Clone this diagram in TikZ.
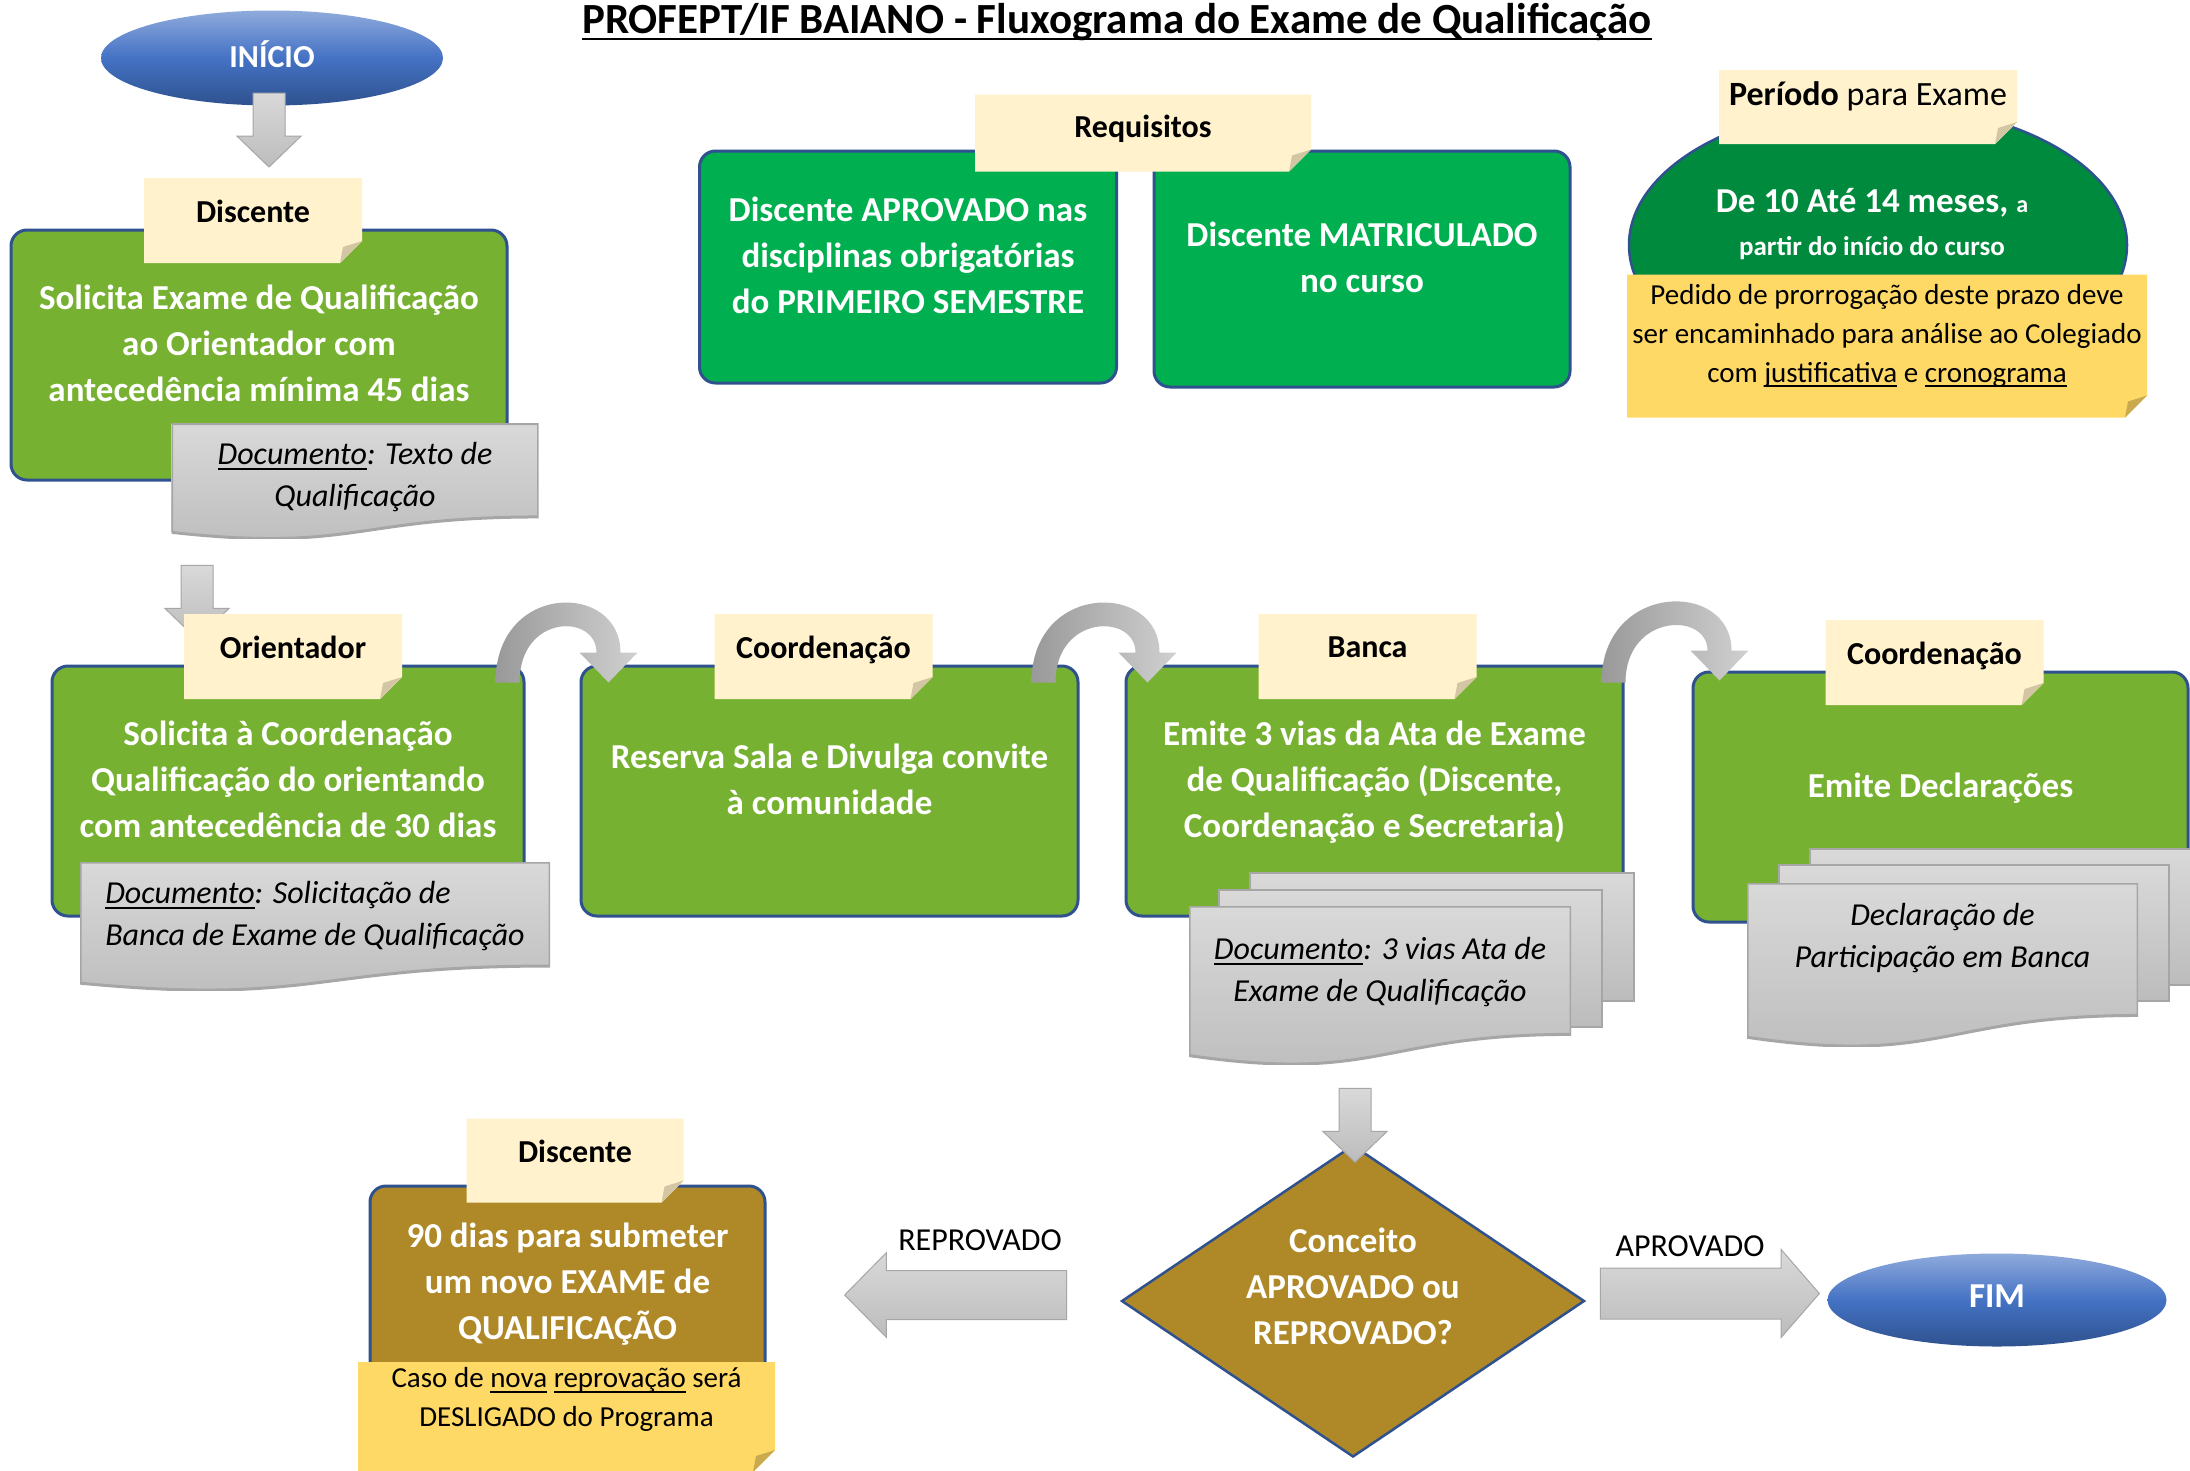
\documentclass[tikz,border=0pt]{standalone}
\usepackage{fontspec}
\setmainfont{Carlito}
\usepackage{tikz}
\usetikzlibrary{shapes.geometric,shapes.arrows,arrows.meta,calc,positioning}

% cores
\definecolor{verde}{HTML}{77B131}
\definecolor{verdereq}{HTML}{00B050}
\definecolor{verdeesc}{HTML}{008A3E}
\definecolor{borda}{HTML}{2F528F}
\definecolor{etiq}{HTML}{FFF2CC}
\definecolor{etiqdobra}{HTML}{D3C6A4}
\definecolor{amarelo}{HTML}{FFD966}
\definecolor{amarelodobra}{HTML}{C9AA4E}
\definecolor{marrom}{HTML}{AF8827}
\definecolor{cinzaclaro}{HTML}{D9D9D9}
\definecolor{cinzaesc}{HTML}{BCBCBC}
\definecolor{cinzaborda}{HTML}{A6A6A6}
\definecolor{cinzacurva}{HTML}{999999}
\definecolor{cinzacurvaclara}{HTML}{D0D0D0}
\definecolor{azulclaro}{HTML}{8FAADC}
\definecolor{azulmedio}{HTML}{4472C4}
\definecolor{azulesc}{HTML}{2F528F}

% tamanhos de letra
\newcommand{\ftitulo}{\fontsize{43}{50}\selectfont}
\newcommand{\fcaixa}{\fontsize{35}{46}\selectfont}
\newcommand{\fetiq}{\fontsize{32}{38}\selectfont}
\newcommand{\fdoc}{\fontsize{32}{42}\selectfont}
\newcommand{\fnota}{\fontsize{29}{39}\selectfont}
% sublinhado a profundidade fixa
\newcommand{\sublinha}[1]{\setbox0\hbox{#1}\rlap{\rule[-0.17em]{\wd0}{0.06em}}\box0\relax}
% seta curva: #1 = base da cauda, #2 = ponta
\newcommand{\setacurva}[2]{%
  \coordinate (cauda) at #1;
  \coordinate (ponta) at #2;
  \shade[curva] ($(cauda)+(-12,0)$)
      .. controls ($(cauda)+(-12,-101)$) and ($(ponta)+(12,-101)$) .. ($(ponta)+(12,-30)$)
      -- ($(ponta)+(29,-30)$) -- (ponta) -- ($(ponta)+(-29,-30)$) -- ($(ponta)+(-12,-30)$)
      .. controls ($(ponta)+(-12,-69)$) and ($(cauda)+(12,-69)$) .. ($(cauda)+(12,0)$)
      -- cycle;
}

\begin{document}
\begin{tikzpicture}[x=1pt,y=-1pt,
    caixa/.style={rectangle, rounded corners=16pt, draw=borda, line width=3pt,
      fill=verde, text=white, font=\fcaixa\bfseries, align=center,
      inner sep=0pt, text depth=24pt},
    etiqueta/.style 2 args={rectangle, inner sep=0pt, align=center,
      font=\fetiq\bfseries, text depth=18pt,
      path picture={
        \path (path picture bounding box.north west) coordinate (nw)
              (path picture bounding box.north east) coordinate (ne)
              (path picture bounding box.south east) coordinate (se)
              (path picture bounding box.south west) coordinate (sw);
        \fill[#1] (nw) -- (ne) -- ([yshift=22pt]se) -- ([xshift=-22pt]se) -- (sw) -- cycle;
        \fill[#2] ([yshift=22pt]se) -- ([xshift=-22pt]se) -- ([xshift=-19pt,yshift=16pt]se) -- cycle;
      }},
    documento/.style={rectangle, inner sep=0pt, align=center,
      font=\fdoc\itshape, text depth=14pt,
      path picture={
        \path (path picture bounding box.north west) coordinate (nw)
              (path picture bounding box.north east) coordinate (ne)
              (path picture bounding box.south east) coordinate (se)
              (path picture bounding box.south west) coordinate (sw)
              (path picture bounding box.north) coordinate (nn)
              (path picture bounding box.south) coordinate (ss);
        \shadedraw[top color=cinzaclaro, bottom color=cinzaesc, draw=cinzaborda, line width=3pt]
          (nw) -- (ne) -- ($(ne)!0.8126!(se)$)
          .. controls ($(nn)!0.8126!(ss)$) and ($(nn)!1.1221!(ss)$) .. ($(nw)!0.9463!(sw)$)
          -- cycle;
      }},
    folha/.style={rectangle, draw=cinzaborda, line width=1.5pt,
      top color=cinzaclaro, bottom color=cinzaesc, inner sep=0pt},
    seta/.style={single arrow, draw=cinzaborda, line width=1pt, anchor=tip,
      top color=cinzaclaro, bottom color=cinzaesc, inner xsep=0pt},
    curva/.style={left color=cinzacurva, right color=cinzacurvaclara},
    elipse/.style={ellipse, draw=none, top color=azulclaro, bottom color=azulesc,
      middle color=azulmedio, text=white, font=\fetiq\bfseries, inner sep=0pt,
      text depth=8pt},
    decisao/.style={diamond, aspect=1.48, fill=marrom, draw=borda, line width=2.5pt,
      text=white, font=\fcaixa\bfseries, align=center, inner sep=0pt, text depth=30pt},
    rotulo/.style={font=\fdoc, inner sep=0pt}
  ]

  \fill[white] (0,0) rectangle (2190,1470);
  \useasboundingbox (0,0) rectangle (2190,1470);

  \node[font=\ftitulo\bfseries, anchor=base] (titulo) at (1117,33)
    {\sublinha{PROFEPT/IF BAIANO - Fluxograma do Exame de Qualificação}};

  % inicio
  \node[elipse, minimum width=342pt, minimum height=95pt] (inicio) at (272,58) {INÍCIO};
  \node[seta, rotate=-90, inner ysep=15.5pt, minimum height=74pt,
        single arrow head extend=16pt, single arrow tip angle=92] (seta1)
        at ($(inicio.south)+(-3,62)$) {};

  % discente
  \node[caixa, minimum width=496pt, minimum height=250pt] (caixa1) at (259,355)
    {Solicita Exame de Qualificação\\ao Orientador com\\antecedência mínima 45 dias};
  \node[etiqueta={etiq}{etiqdobra}, minimum width=218pt, minimum height=85pt] (etq1)
    at ($(caixa1.north)+(-6,-8)$) {Discente};
  \node[documento, minimum width=367pt, minimum height=115pt] (doc1) at (355,481)
    {\sublinha{Documento}: Texto de\\Qualificação};

  % requisitos
  \node[caixa, fill=verdereq, minimum width=417pt, minimum height=232pt] (req1) at (908,267)
    {Discente APROVADO nas\\disciplinas obrigatórias\\do PRIMEIRO SEMESTRE};
  \node[caixa, fill=verdereq, minimum width=416pt, minimum height=236pt] (req2) at (1362,269)
    {Discente MATRICULADO\\no curso};
  \node[etiqueta={etiq}{etiqdobra}, text depth=14pt, minimum width=336pt, minimum height=77pt]
    (etqreq) at (1143,133) {Requisitos};

  % periodo
  \node[ellipse, fill=verdeesc, draw=borda, line width=2.5pt, minimum width=498pt,
        minimum height=280pt] (periodo) at (1878,245) {};
  \node[etiqueta={etiq}{etiqdobra}, font=\fontsize{34}{40}\selectfont, text depth=27pt,
        minimum width=298pt, minimum height=74pt] (etqper) at (1868,107)
    {\textbf{Período} para Exame};
  \node[text=white, font=\fontsize{35}{43}\selectfont\bfseries, align=center, inner sep=0pt]
    (prazo) at (1872,224)
    {De 10 Até 14 meses, {\fontsize{24}{43}\selectfont a}\\{\fontsize{27}{43}\selectfont partir do início do curso}};
  \node[etiqueta={amarelo}{amarelodobra}, font=\fnota, text depth=26pt,
        minimum width=520pt, minimum height=143pt] (nota1) at (1887,346)
    {Pedido de prorrogação deste prazo deve\\ser encaminhado para análise ao Colegiado\\com \sublinha{justificativa} e \sublinha{cronograma}};

  % orientador
  \node[seta, rotate=-90, inner ysep=15.5pt, minimum height=74pt,
        single arrow head extend=16pt, single arrow tip angle=92] (seta2) at (197,640) {};
  \node[caixa, minimum width=472pt, minimum height=250pt] (caixa2) at (288,791)
    {Solicita à Coordenação\\Qualificação do orientando\\com antecedência de 30 dias};
  \node[etiqueta={etiq}{etiqdobra}, minimum width=218pt, minimum height=85pt] (etq2)
    at ($(caixa2.north)+(5,-8)$) {Orientador};
  \node[documento, align=left, minimum width=470pt, minimum height=128pt, text depth=25pt] (doc2)
    at (315,926) {\sublinha{Documento}: Solicitação de\\Banca de Exame de Qualificação};

  % coordenacao
  \node[caixa, minimum width=497pt, minimum height=250pt] (caixa3) at (829.5,791)
    {Reserva Sala e Divulga convite\\à comunidade};
  \node[etiqueta={etiq}{etiqdobra}, minimum width=218pt, minimum height=85pt] (etq3)
    at ($(caixa3.north)+(-6,-8)$) {Coordenação};

  % banca
  \node[caixa, minimum width=497pt, minimum height=250pt] (caixa4) at (1374.5,791)
    {Emite 3 vias da Ata de Exame\\de Qualificação (Discente,\\Coordenação e Secretaria)};
  \node[etiqueta={etiq}{etiqdobra}, minimum width=218pt, minimum height=85pt] (etq4)
    at ($(caixa4.north)+(-7,-8)$) {Banca};
  \node[folha, minimum width=384pt, minimum height=128pt] (doc3c) at (1442,937) {};
  \node[folha, minimum width=383pt, minimum height=137pt] (doc3b) at (1410.5,958.5) {};
  \node[documento, minimum width=382pt, minimum height=158pt, text depth=31pt] (doc3)
    at (1380,985) {\sublinha{Documento}: 3 vias Ata de\\Exame de Qualificação};

  % coordenacao (declaracoes)
  \node[caixa, minimum width=495pt, minimum height=250pt] (caixa5) at (1940.5,797)
    {Emite Declarações};
  \node[etiqueta={etiq}{etiqdobra}, minimum width=218pt, minimum height=85pt] (etq5)
    at ($(caixa5.north)+(-6,-8)$) {Coordenação};
  \node[folha, minimum width=390pt, minimum height=136pt] (doc4c) at (2005,917) {};
  \node[folha, minimum width=390pt, minimum height=136pt] (doc4b) at (1974,933) {};
  \node[documento, minimum width=391pt, minimum height=163pt, text depth=59pt] (doc4)
    at (1942.5,964.5) {Declaração de\\Participação em Banca};

  % setas curvas
  \setacurva{($(caixa2.north east)+(-18,18)$)}{($(caixa3.north west)+(29,18)$)}
  \setacurva{($(caixa3.north east)+(-36,18)$)}{($(caixa4.north west)+(23,18)$)}
  \setacurva{($(caixa4.north east)+(-11,18)$)}{($(caixa5.north west)+(28,10)$)}

  % decisao
  \node[decisao, minimum width=463pt, minimum height=312pt] (conceito) at (1353,1301)
    {Conceito\\APROVADO ou\\REPROVADO?};
  \node[seta, rotate=-90, inner ysep=15.5pt, minimum height=74pt,
        single arrow head extend=16pt, single arrow tip angle=92] (seta4) at (1355,1163) {};
  \node[seta, rotate=180, inner ysep=24pt, minimum height=222pt,
        single arrow head extend=18pt, single arrow tip angle=91] (setarep) at (844,1295) {};
  \node[rotulo] (txtrep) at (980,1240) {REPROVADO};
  \node[seta, inner ysep=25pt, minimum height=219pt,
        single arrow head extend=18.5pt, single arrow tip angle=98] (setaap) at (1820,1293.5) {};
  \node[rotulo] (txtap) at (1690,1246) {APROVADO};
  \node[elipse, minimum width=339pt, minimum height=93pt, font=\fcaixa\bfseries] (fim)
    at (1997,1300) {FIM};

  % reprovado
  \node[caixa, fill=marrom, minimum width=395pt, minimum height=214pt] (caixa6) at (567.5,1293)
    {90 dias para submeter\\um novo EXAME de\\QUALIFICAÇÃO};
  \node[etiqueta={etiq}{etiqdobra}, minimum width=217pt, minimum height=84pt] (etq6)
    at ($(caixa6.north)+(7.5,-24)$) {Discente};
  \node[etiqueta={amarelo}{amarelodobra}, font=\fnota, text depth=40pt,
        minimum width=417pt, minimum height=110pt] (nota2) at (566.5,1417)
    {Caso de \sublinha{nova} \sublinha{reprovação} será\\DESLIGADO do Programa};

\end{tikzpicture}
\end{document}
